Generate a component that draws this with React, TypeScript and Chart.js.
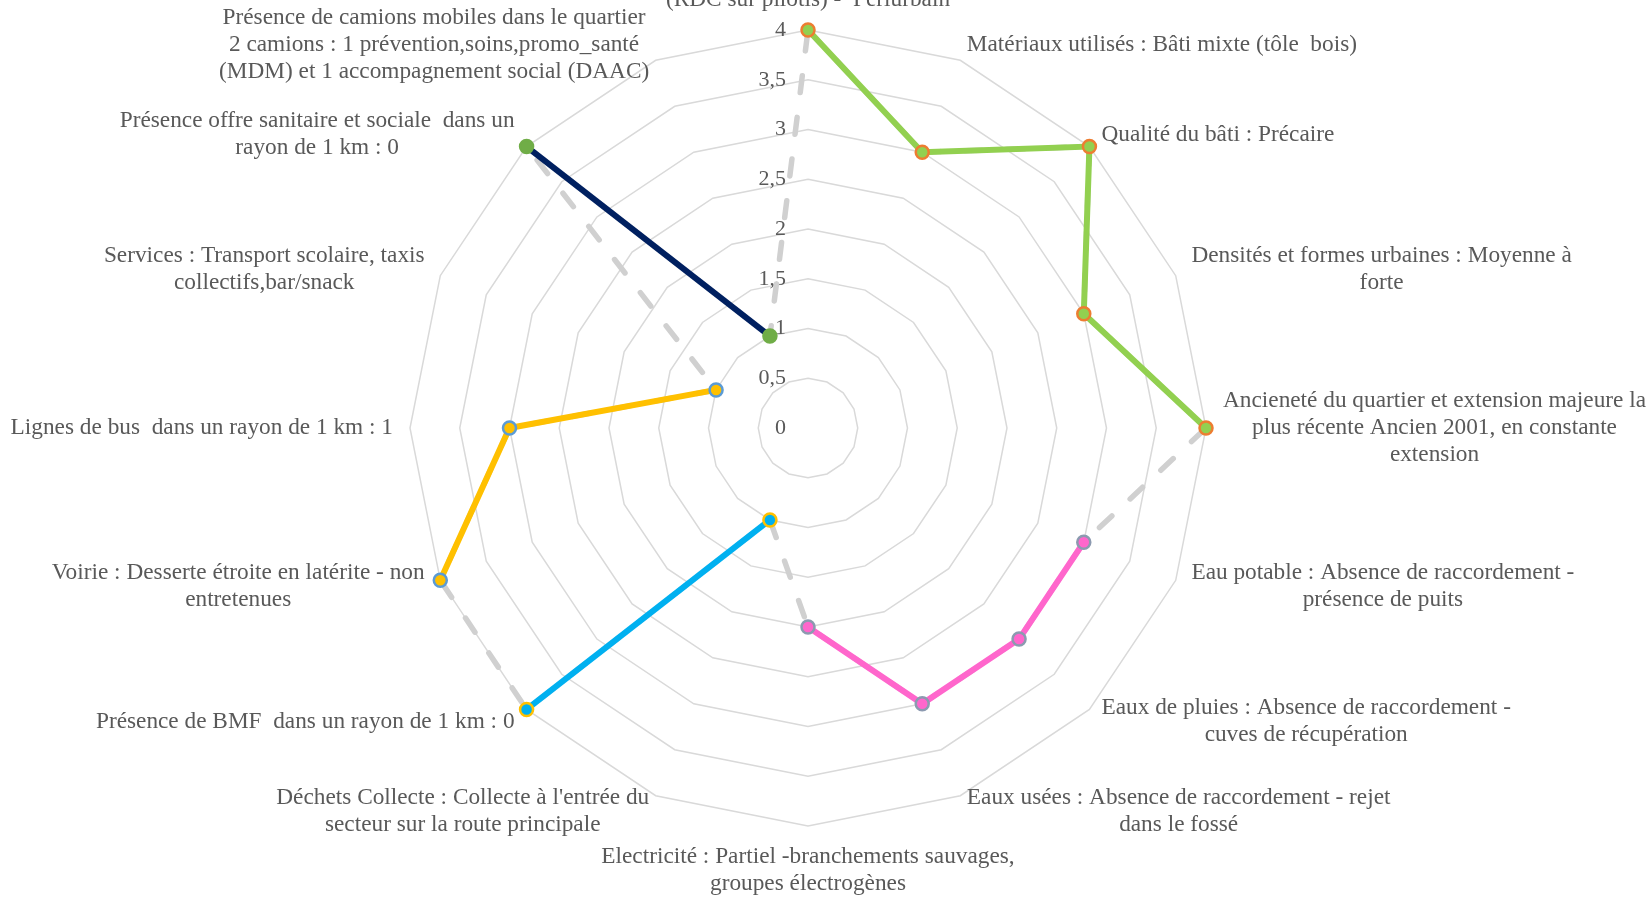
import React, { useEffect, useRef } from 'react';
import { Chart, registerables } from 'chart.js';

Chart.register(...registerables);

// ---------- DATA ----------
const categories: string[][] = [
  ['(RDC sur pilotis) -  Périurbain'],
  ['Matériaux utilisés : Bâti mixte (tôle  bois)'],
  ['Qualité du bâti : Précaire'],
  ['Densités et formes urbaines : Moyenne à', 'forte'],
  ['Ancieneté du quartier et extension majeure la', 'plus récente Ancien 2001, en constante', 'extension'],
  ['Eau potable : Absence de raccordement -', 'présence de puits'],
  ['Eaux de pluies : Absence de raccordement -', 'cuves de récupération'],
  ['Eaux usées : Absence de raccordement - rejet', 'dans le fossé'],
  ['Electricité : Partiel -branchements sauvages,', 'groupes électrogènes'],
  ["Déchets Collecte : Collecte à l'entrée du", 'secteur sur la route principale'],
  ['Présence de BMF  dans un rayon de 1 km : 0'],
  ['Voirie : Desserte étroite en latérite - non', 'entretenues'],
  ['Lignes de bus  dans un rayon de 1 km : 1'],
  ['Services : Transport scolaire, taxis', 'collectifs,bar/snack'],
  ['Présence offre sanitaire et sociale  dans un', 'rayon de 1 km : 0'],
  ['Présence de camions mobiles dans le quartier', '2 camions : 1 prévention,soins,promo_santé', '(MDM) et 1 accompagnement social (DAAC)'],
];

const allScores = [4, 3, 4, 3, 4, 3, 3, 3, 2, 1, 4, 4, 3, 1, 4, 1];
const batiScores = [4, 3, 4, 3, 4, null, null, null, null, null, null, null, null, null, null, null];
const reseauxScores = [null, null, null, null, null, 3, 3, 3, 2, null, null, null, null, null, null, null];
const dechetsScores = [null, null, null, null, null, null, null, null, null, 1, 4, null, null, null, null, null];
const mobiliteScores = [null, null, null, null, null, null, null, null, null, null, null, 4, 3, 1, null, null];
const santeScores = [null, null, null, null, null, null, null, null, null, null, null, null, null, null, 4, 1];

const tickValues = [0, 0.5, 1, 1.5, 2, 2.5, 3, 3.5, 4];
const tickLabels = ['0', '0,5', '1', '1,5', '2', '2,5', '3', '3,5', '4'];

// ---------- STYLE ----------
const FONT_FAMILY = '"Liberation Serif", "Times New Roman", serif';
const LABEL_SIZE = 23.3;
const LINE_H = 27;
const TICK_SIZE = 22;
const TEXT_COLOR = '#595959';

const labelPlugin = {
  id: 'customLabels',
  beforeDatasetsDraw(chart: any) {
    const scale = chart.scales.r;
    const ctx = chart.ctx as CanvasRenderingContext2D;
    ctx.save();
    ctx.fillStyle = TEXT_COLOR;
    ctx.textBaseline = 'middle';

    // tick labels
    ctx.font = `${TICK_SIZE}px ${FONT_FAMILY}`;
    ctx.textAlign = 'right';
    tickValues.forEach((v, i) => {
      const d = scale.getDistanceFromCenterForValue(v);
      ctx.fillText(tickLabels[i], scale.xCenter - 22, scale.yCenter - d);
    });

    // point labels
    ctx.font = `${LABEL_SIZE}px ${FONT_FAMILY}`;
    ctx.textAlign = 'center';
    const outer = scale.drawingArea + 17;
    categories.forEach((lines, i) => {
      const p = scale.getPointPosition(i, outer);
      const dx = p.x - scale.xCenter;
      const dy = p.y - scale.yCenter;
      const h = lines.length * LINE_H;
      const w = Math.max(...lines.map((l) => ctx.measureText(l).width));
      let cx: number;
      let top: number;
      if (Math.abs(dx) < 1) {
        cx = p.x;
        top = dy < 0 ? p.y - h : p.y;
      } else {
        top = p.y - h / 2;
        cx = dx > 0 ? p.x + w / 2 : p.x - w / 2;
      }
      lines.forEach((l, k) => {
        ctx.fillText(l, cx, top + LINE_H * (k + 0.5));
      });
    });
    ctx.restore();
  },
};

export default function App() {
  const canvasRef = useRef<HTMLCanvasElement | null>(null);

  useEffect(() => {
    const canvas = canvasRef.current;
    if (!canvas) return;
    const pt = (fill: string, border: string) => ({
      pointBackgroundColor: fill,
      pointBorderColor: border,
      pointBorderWidth: 2.5,
      pointRadius: 6.5,
      pointHoverRadius: 6.5,
    });
    const LW = 6;
    const chart = new Chart(canvas, {
      type: 'radar',
      data: {
        labels: categories.map((c) => c.join(' ')),
        datasets: [
          {
            label: 'Bâti',
            data: batiScores,
            borderColor: '#92d050',
            borderWidth: LW,
            fill: false,
            spanGaps: false,
            order: 1,
            ...pt('#92d050', '#ed7d31'),
          },
          {
            label: 'Réseaux',
            data: reseauxScores,
            borderColor: '#ff66cc',
            borderWidth: LW,
            fill: false,
            spanGaps: false,
            order: 1,
            ...pt('#ff66cc', '#8c9ab0'),
          },
          {
            label: 'Déchets',
            data: dechetsScores,
            borderColor: '#00b0f0',
            borderWidth: LW,
            fill: false,
            spanGaps: false,
            order: 1,
            ...pt('#00b0f0', '#ffc000'),
          },
          {
            label: 'Mobilité',
            data: mobiliteScores,
            borderColor: '#ffc000',
            borderWidth: LW,
            fill: false,
            spanGaps: false,
            order: 1,
            ...pt('#ffc000', '#5b9bd5'),
          },
          {
            label: 'Santé',
            data: santeScores,
            borderColor: '#002060',
            borderWidth: LW,
            fill: false,
            spanGaps: false,
            order: 1,
            ...pt('#70ad47', '#70ad47'),
          },
          {
            label: 'Ensemble',
            data: allScores,
            borderColor: '#d0d0d0',
            borderWidth: 5.5,
            borderDash: [17, 25],
            borderCapStyle: 'round',
            fill: false,
            pointRadius: 0,
            pointHoverRadius: 0,
            order: 10,
          },
        ],
      },
      options: {
        responsive: false,
        animation: false,
        devicePixelRatio: 1,
        layout: { padding: { left: 0, right: 35, top: 30, bottom: 71 } },
        plugins: {
          legend: { display: false },
          tooltip: { enabled: false },
        },
        scales: {
          r: {
            min: 0,
            max: 4,
            ticks: { display: false, stepSize: 0.5 },
            grid: { color: '#d9d9d9', lineWidth: 1.5 },
            angleLines: { display: false },
            pointLabels: { display: false },
          },
        },
      },
      plugins: [labelPlugin],
    } as any);
    return () => chart.destroy();
  }, []);

  return (
    <div style={{ position: 'absolute', left: 0, top: 0, width: 1652, height: 897, background: '#fff' }}>
      <canvas ref={canvasRef} width={1652} height={897} style={{ display: 'block' }} />
    </div>
  );
}
